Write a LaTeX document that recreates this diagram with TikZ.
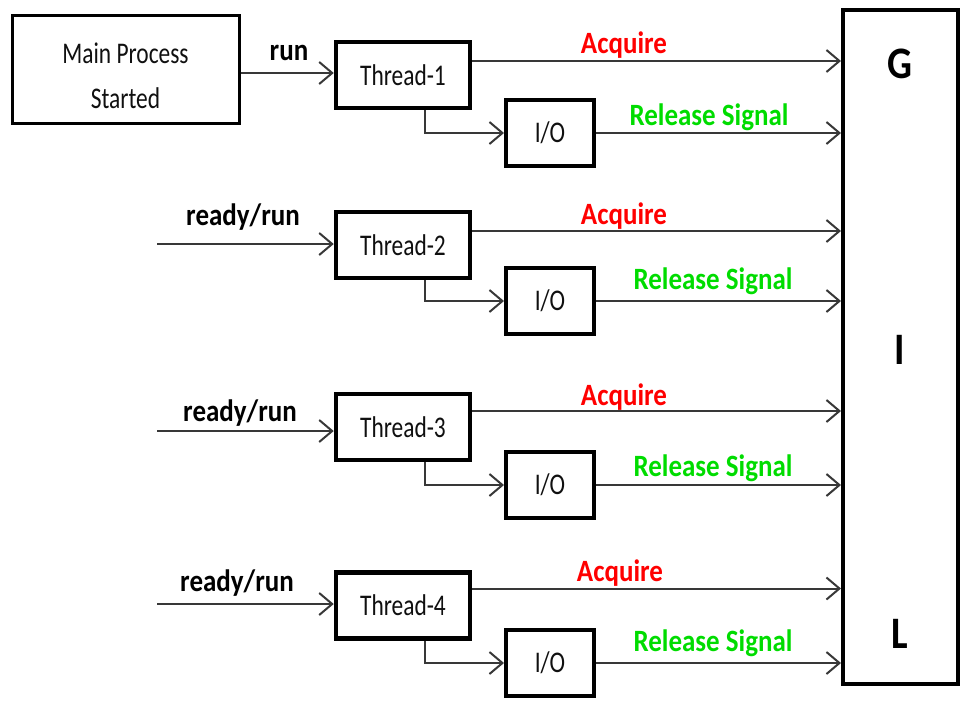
\documentclass[tikz,border=0pt]{standalone}
\usepackage{fontspec}
\setmainfont{Carlito}
\newfontfamily\regf[FakeStretch=0.78]{Carlito}
\newfontfamily\boldf[FakeStretch=0.87]{Carlito Bold}
\usetikzlibrary{arrows.meta}
\definecolor{linec}{HTML}{383838}
\definecolor{acqred}{RGB}{255,0,0}
\definecolor{relgreen}{RGB}{0,220,0}
\definecolor{txt}{HTML}{101010}
\tikzset{
  box/.style={draw=black, rectangle, inner sep=0pt, fill=white, text=txt,
    font=\regf\fontsize{30}{45}\selectfont},
  thr/.style={box, line width=4.5pt, minimum width=134pt, minimum height=66pt},
  io/.style={box, line width=4pt, minimum width=88pt, minimum height=66pt},
  arr/.style={draw=linec, line width=2pt, -{Straight Barb[length=13pt,width=22pt,line width=2pt]}},
  lbl/.style={inner sep=0pt, font=\boldf\fontsize{31}{36}\selectfont},
  acq/.style={lbl, text=acqred},
  rel/.style={lbl, text=relgreen},
  gilt/.style={inner sep=0pt, font=\boldf\fontsize{45}{50}\selectfont, text=black}
}
\begin{document}
\begin{tikzpicture}[x=1pt,y=-1pt]
\useasboundingbox (0,0) rectangle (960,702);
% main
\node[box, line width=3pt, minimum width=227pt, minimum height=108pt] (main) at (125.5,69)
  {\raisebox{-14pt}[0pt][0pt]{\begin{tabular}{@{}c@{}}Main Process\\Started\end{tabular}}};
% GIL
\node[draw=black, line width=4pt, rectangle, minimum width=115pt, minimum height=674pt, inner sep=0pt] (gil) at (900.5,347) {};
\node[gilt] (gG) at (900,64) {G};
\node[gilt] (gI) at (900,350) {I};
\node[gilt] (gL) at (900,634) {L};
% threads
\node[thr] (t1) at (403,75) {Thread-1};
\node[thr] (t2) at (403,245) {Thread-2};
\node[thr] (t3) at (403,427) {Thread-3};
\node[thr] (t4) at (403,605.5) {Thread-4};
% io
\node[io] (io1) at (550,133) {I/O};
\node[io] (io2) at (550,301) {I/O};
\node[io] (io3) at (550,485) {I/O};
\node[io] (io4) at (550,663) {I/O};
% inputs
\coordinate (in2) at (157,244);
\coordinate (in3) at (157,431);
\coordinate (in4) at (157,604);
\coordinate (m1) at (main.east |- 0,73);
\draw[arr] (m1) -- (t1.west |- m1);
\draw[arr] (in2) -- (t2.west |- in2);
\draw[arr] (in3) -- (t3.west |- in3);
\draw[arr] (in4) -- (t4.west |- in4);
\node[lbl] (run) at (289,53) {run};
\node[lbl] (rr2) at (243,217) {ready/run};
\node[lbl] (rr3) at (240,413) {ready/run};
\node[lbl] (rr4) at (237,583) {ready/run};
% acquire
\foreach \t/\dy in {t1/14,t2/14,t3/16,t4/17}{
  \coordinate (a\t) at ([yshift=\dy pt]\t.east);
  \draw[arr] (a\t) -- (gil.west |- a\t);
}
\node[acq] at (624,45) {Acquire};
\node[acq] at (624,216) {Acquire};
\node[acq] at (624,397) {Acquire};
\node[acq] at (620,573) {Acquire};
% io connectors
\foreach \i in {1,2,3,4}{
  \draw[arr] ([xshift=22pt]t\i.south) |- (io\i.west);
  \draw[arr] (io\i.east) -- (gil.west |- io\i.east);
}
\node[rel] at (709,117) {Release Signal};
\node[rel] at (713,281) {Release Signal};
\node[rel] at (713,468) {Release Signal};
\node[rel] at (713,643) {Release Signal};
\end{tikzpicture}
\end{document}
